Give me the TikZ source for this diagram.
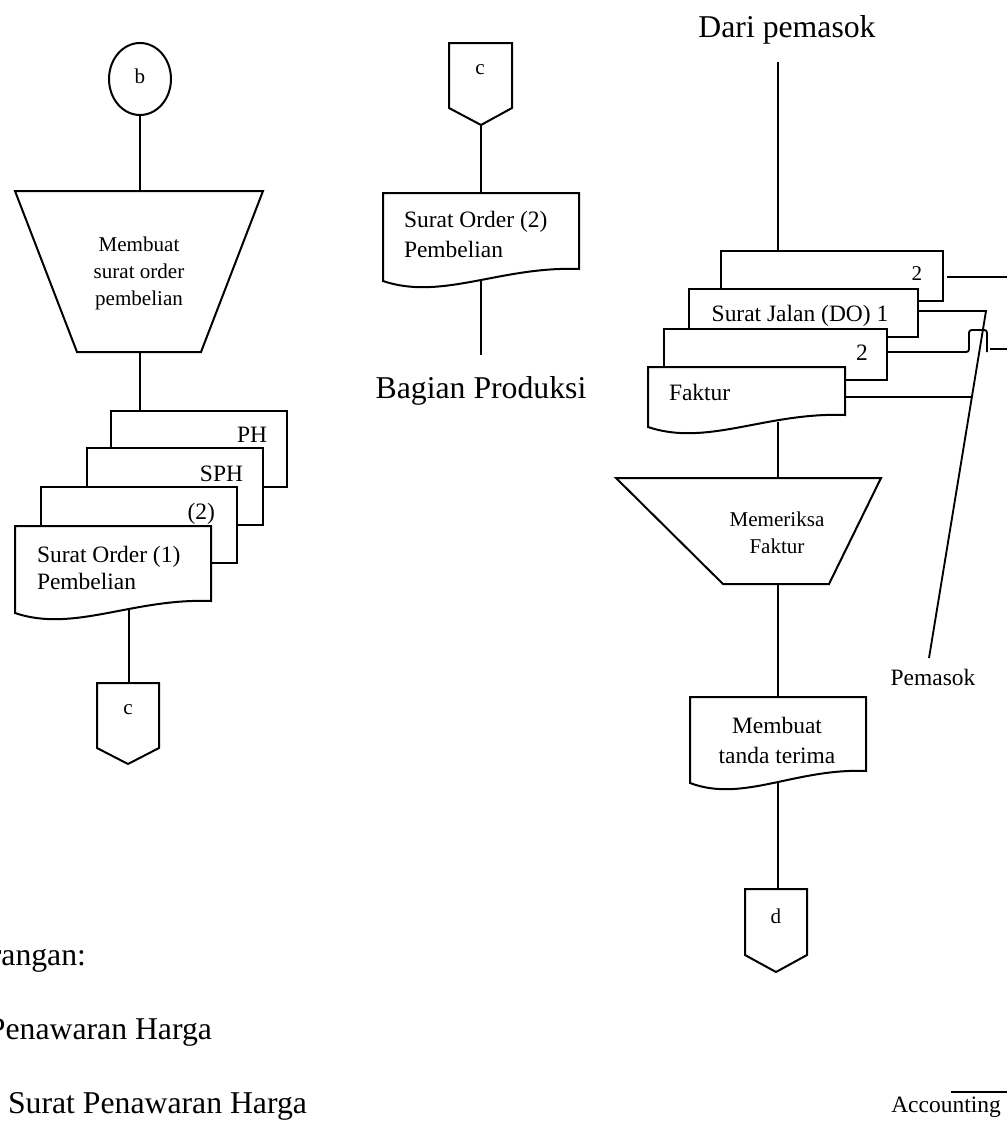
\documentclass[tikz,border=0pt]{standalone}
\usepackage{fontspec}
\setmainfont{Liberation Serif}
\usetikzlibrary{shapes.geometric,backgrounds}

\tikzset{every picture/.style={line width=1.5pt}}
\tikzset{
	shp/.style={draw, fill=white, line width=1.5pt},
	conn/.style={draw, line width=1.4pt},
	bigtxt/.style={font=\fontsize{23.8}{28}\selectfont, inner sep=0pt},
	midtxt/.style={font=\fontsize{17.6}{21}\selectfont, inner sep=0pt},
	smalltxt/.style={font=\fontsize{15.8}{20.25}\selectfont, inner sep=0pt}}

% document with wavy bottom: left, top, right, bottom-left
\newcommand{\wavedoc}[4]{%
	\draw[shp] (#1,#2) -- (#3,#2) -- (#3,{#4-12}) .. controls ({#1+0.6*(#3-#1)},{#4-15}) and ({#1+0.3*(#3-#1)},{#4+20}) .. (#1,#4) -- cycle ;}

\begin{document}
\begin{tikzpicture}[x=0.75pt,y=0.75pt,yscale=-1,xscale=1]
	\useasboundingbox (0,0) rectangle (1007,1128);
	\clip (0,0) rectangle (1007,1128);

	%Shape: Ellipse [connector b]
	\node[shp, ellipse, minimum width=46.5pt, minimum height=54pt, inner sep=0pt] (b) at (140,79) {};
	\node[smalltxt] (b-txt) at (140,76) {b};
	%Shape: Trapezoid [Membuat surat order]
	\draw[shp] (15,191) -- (263,191) -- (201,352) -- (77,352) -- cycle ;
	\coordinate (mkso-in) at (140,191);
	\coordinate (mkso-out) at (140,352);
	\node[smalltxt, align=center] (mkso) at (139,273) {Membuat\\surat order\\pembelian};

	%Shape: Document stack PH / SPH / (2) / (1)
	\draw[shp] (111,411) rectangle (287,487);
	\coordinate (ph-in) at (140,411);
	\node[midtxt, anchor=east] (ph) at (268,435) {PH};
	\draw[shp] (87,448) rectangle (263,525);
	\node[midtxt, anchor=east] (sph) at (244,474) {SPH};
	\draw[shp] (41,487) rectangle (237,563);
	\node[midtxt, anchor=east] (so1b) at (216,514) {(2)};
	\wavedoc{15}{526}{211}{613}
	\node[midtxt, align=left, anchor=west, font=\fontsize{17.6}{20.25}\selectfont] (so1) at (36,568) {Surat Order (1)\\Pembelian};
	\coordinate (so1-out) at (129,606);

	%Shape: Off page [c]
	\draw[shp] (97,683) -- (159,683) -- (159,748) -- (128,764) -- (97,748) -- cycle ;
	\coordinate (c1-in) at (129,683);
	\node[smalltxt] (c1) at (128,710) {c};

	%Shape: Off page [c]
	\draw[shp] (449,43) -- (512,43) -- (512,108) -- (481,125) -- (449,108) -- cycle ;
	\coordinate (c2-out) at (481,125);
	\node[smalltxt] (c2) at (480,70) {c};
	%Shape: Document [Surat Order (2)]
	\wavedoc{383}{193}{579}{281}
	\coordinate (so2-in) at (481,193);
	\coordinate (so2-out) at (481,278);
	\node[midtxt, align=left, anchor=west, font=\fontsize{17.6}{22.5}\selectfont] (so2) at (403,234) {Surat Order (2)\\Pembelian};
	% Text Node
	\coordinate (bp-in) at (481,355);
	\node[bigtxt] (bp) at (481,391) {Bagian Produksi};

	% Text Node
	\node[bigtxt] (dp) at (787,30) {Dari pemasok};
	\coordinate (dp-out) at (778,62);

	%Shape: Document stack Surat Jalan / Faktur
	\draw[shp] (721,251) rectangle (943,301);
	\coordinate (sj2-in) at (778,251);
	\coordinate (sj2-out) at (947,277);
	\node[smalltxt] (sj2) at (917,274) {2};
	\draw[shp] (689,289) rectangle (918,337);
	\coordinate (sj1-out) at (918,311);
	\node[midtxt] (sj1) at (800,316) {Surat Jalan (DO) 1};
	\draw[shp] (664,329) rectangle (887,380);
	\coordinate (ft2-out) at (887,352);
	\node[midtxt] (ft2) at (862,353) {2};
	\wavedoc{648}{367}{845}{427}
	\coordinate (ft1-out) at (845,397);
	\coordinate (ft1-dn) at (778,422);
	\node[midtxt, anchor=west] (ft1) at (668,392) {Faktur};

	%Shape: Trapezoid [Memeriksa Faktur]
	\draw[shp] (616,478) -- (881,478) -- (829,584) -- (723,584) -- cycle ;
	\coordinate (mfk-in) at (778,478);
	\coordinate (mfk-out) at (778,584);
	\node[smalltxt, align=center] (mfk) at (777,533) {Memeriksa\\Faktur};

	%Shape: Document [Membuat tanda terima]
	\wavedoc{690}{697}{866}{783}
	\coordinate (mtt-in) at (778,697);
	\coordinate (mtt-out) at (778,780);
	\node[midtxt, align=center, font=\fontsize{17.6}{22.5}\selectfont] (mtt) at (777,740) {Membuat\\tanda terima};

	%Shape: Off page [d]
	\draw[shp] (745,889) -- (807,889) -- (807,955) -- (776,972) -- (745,955) -- cycle ;
	\coordinate (d-in) at (778,889);
	\node[smalltxt] (d) at (776,916) {d};

	% Text Node
	\coordinate (bend) at (986,311);
	\coordinate (pms-in) at (929,658);
	\coordinate (hit) at (972,397);
	\coordinate (hop-end) at (990,349);
	\coordinate (edge1) at (1007,277);
	\coordinate (edge2) at (1007,349);
	\node[midtxt] (pms) at (933,677) {Pemasok};

	% Text Node
	\node[bigtxt, anchor=east] (ket) at (87,959) {Keterangan:};
	\node[bigtxt, anchor=east] (ph-def) at (213,1033) {Penawaran Harga};
	\node[bigtxt, anchor=west] (sph-def) at (7,1106) {Surat Penawaran Harga};
	\node[midtxt] (acc) at (946,1107) {Accounting};
	\draw[line width=1.4pt] (951,1092) -- (1007,1092);

	% connectors
	\begin{scope}[on background layer]
		\draw[conn] (b.south) -- (mkso-in);
		\draw[conn] (mkso-out) -- (ph-in);
		\draw[conn] (so1-out) -- (c1-in);
		\draw[conn] (c2-out) -- (so2-in);
		\draw[conn] (so2-out) -- (bp-in);
		\draw[conn] (dp-out) -- (sj2-in);
		\draw[conn] (sj2-out) -- (edge1);
		\draw[conn] (sj1-out) -- (bend) -- (pms-in);
		\draw[conn, rounded corners=2pt] (ft2-out) -- ++(82,0) -- ++(0,-22) -- ++(18,0) -- ++(0,22);
		\draw[conn] (hop-end) -- (edge2);
		\draw[conn] (ft1-out) -- (hit);
		\draw[conn] (ft1-dn) -- (mfk-in);
		\draw[conn] (mfk-out) -- (mtt-in);
		\draw[conn] (mtt-out) -- (d-in);
	\end{scope}
\end{tikzpicture}
\end{document}
